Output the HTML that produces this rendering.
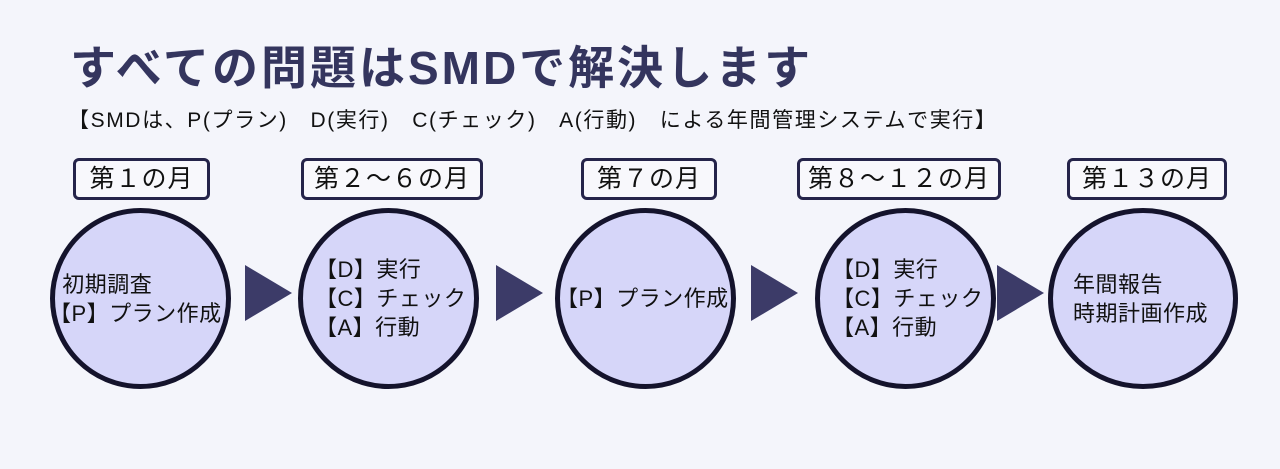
<!DOCTYPE html>
<html><head><meta charset="utf-8"><style>
body{margin:0;width:1280px;height:469px;background:#f4f5fb;position:relative;overflow:hidden;font-family:"Liberation Sans","Noto Sans CJK JP",sans-serif;}
.t{position:absolute;left:70px;top:32px;font-size:46px;font-weight:bold;color:#34355e;letter-spacing:3px;white-space:nowrap}
.s{position:absolute;left:68px;top:104px;font-size:21px;color:#111;white-space:nowrap;letter-spacing:1.6px}
.lb{position:absolute;top:158px;height:36px;border:3px solid #25244a;border-radius:6px;background:#f8f8fc;font-size:25px;color:#111;text-align:center;line-height:36px;white-space:nowrap;letter-spacing:1px}
.c{position:absolute;top:208px;width:171px;height:171px;border:5px solid #14132c;border-radius:50%;background:#d6d6f9;font-size:22px;color:#111;display:flex;align-items:center;white-space:nowrap;line-height:29px;letter-spacing:0.5px}
.a{position:absolute;top:265px;width:0;height:0;border-top:28px solid transparent;border-bottom:28px solid transparent;border-left:47px solid #3c3b68}
</style></head><body>
<div class="t">すべての問題はSMDで解決します</div>
<div class="s">【SMDは、P(プラン)　D(実行)　C(チェック)　A(行動)　による年間管理システムで実行】</div>
<div class="lb" style="left:73px;width:131px">第１の月</div>
<div class="lb" style="left:301px;width:176px">第２～６の月</div>
<div class="lb" style="left:581px;width:130px">第７の月</div>
<div class="lb" style="left:797px;width:198px">第８～１２の月</div>
<div class="lb" style="left:1067px;width:154px">第１３の月</div>
<div class="c" style="left:50px"><div style="margin-left:-6px">&nbsp;&nbsp;初期調査<br>【P】プラン作成</div></div>
<div class="c" style="left:298px"><div style="margin-left:12px">【D】実行<br>【C】チェック<br>【A】行動</div></div>
<div class="c" style="left:555px"><div style="margin-left:-4px">【P】プラン作成</div></div>
<div class="c" style="left:815px"><div style="margin-left:12px">【D】実行<br>【C】チェック<br>【A】行動</div></div>
<div class="c" style="left:1048px;width:180px"><div style="margin-left:20px">年間報告<br>時期計画作成</div></div>
<div class="a" style="left:245px"></div>
<div class="a" style="left:496px"></div>
<div class="a" style="left:751px"></div>
<div class="a" style="left:997px"></div>
</body></html>
